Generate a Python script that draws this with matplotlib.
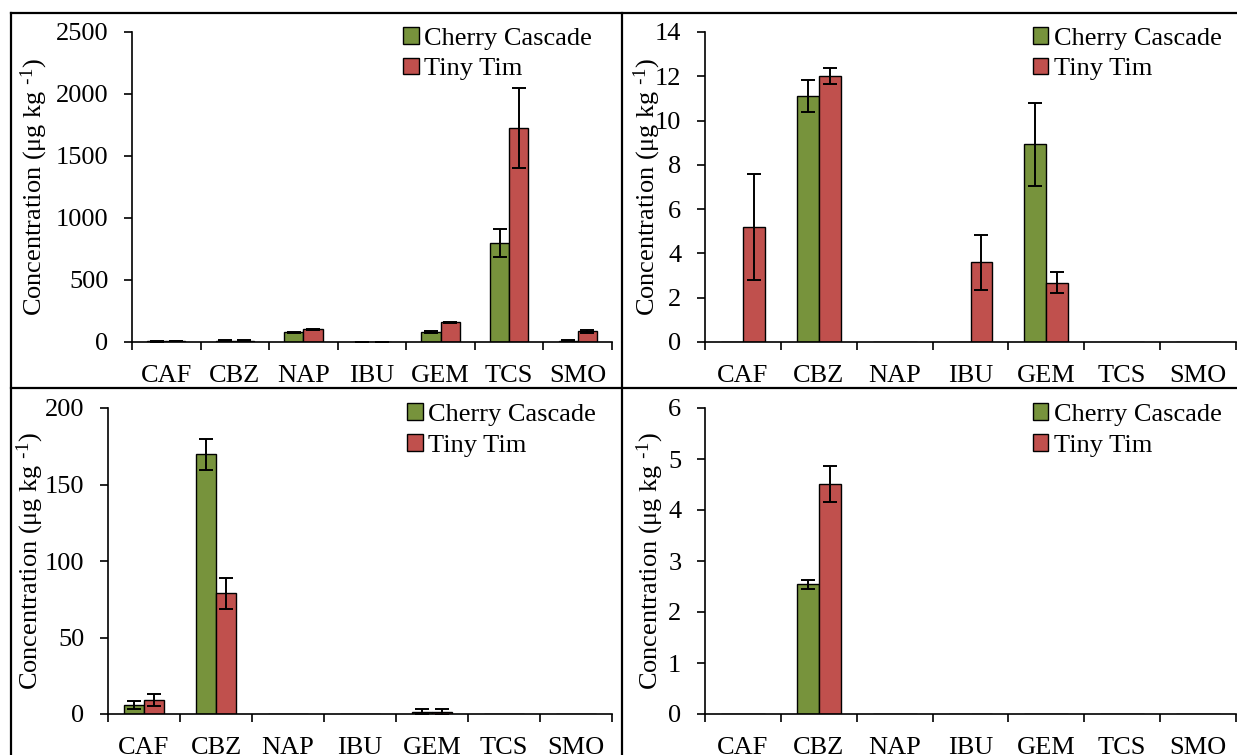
import matplotlib.pyplot as plt
from matplotlib.lines import Line2D
import numpy as np

plt.rcParams['font.family'] = ['Liberation Serif', 'DejaVu Serif']
plt.rcParams['mathtext.default'] = 'regular'

categories = ['CAF', 'CBZ', 'NAP', 'IBU', 'GEM', 'TCS', 'SMO']
series_names = ['Cherry Cascade', 'Tiny Tim']

# top-left panel
cc_a = [5, 12, 78, 2, 80, 798, 10]
cc_a_err = [2, 3, 5, 1, 5, 110, 3]
tt_a = [8, 10, 102, 2, 161, 1728, 86]
tt_a_err = [3, 3, 5, 1, 4, 322, 12]

# top-right panel
cc_b = [0, 11.1, 0, 0, 8.93, 0, 0]
cc_b_err = [0, 0.72, 0, 0, 1.87, 0, 0]
tt_b = [5.19, 12.0, 0, 3.6, 2.68, 0, 0]
tt_b_err = [2.38, 0.36, 0, 1.25, 0.48, 0, 0]

# bottom-left panel
cc_c = [5.9, 169.7, 0.3, 0.2, 1.5, 0.2, 0.2]
cc_c_err = [2.8, 10.3, 0, 0, 1.8, 0, 0]
tt_c = [9.4, 78.8, 0.2, 0.2, 1.2, 0.2, 0.2]
tt_c_err = [3.9, 10.2, 0, 0, 1.8, 0, 0]

# bottom-right panel
cc_d = [0, 2.54, 0, 0, 0, 0, 0]
cc_d_err = [0, 0.08, 0, 0, 0, 0, 0]
tt_d = [0, 4.51, 0, 0, 0, 0, 0]
tt_d_err = [0, 0.35, 0, 0, 0, 0, 0]

green = '#77933C'
red = '#C0504D'
W, H = 1237, 755

fig = plt.figure(figsize=(12.37, 7.55), dpi=100)


def px_axes(x0, x1, ytop, ybot):
    return fig.add_axes([x0 / W, (H - ybot) / H, (x1 - x0) / W, (ybot - ytop) / H])


def panel(ax, cc, cc_err, tt, tt_err, ymax, ystep, bw, lab_x, leg_x):
    x = np.arange(len(categories)) + 0.5
    for vals, errs, col, off, name in [(cc, cc_err, green, -bw / 2, series_names[0]),
                                       (tt, tt_err, red, bw / 2, series_names[1])]:
        vals = np.array(vals, float)
        errs = np.array(errs, float)
        ax.bar(x + off, vals, bw, color=col, edgecolor='black', linewidth=1.0,
               label=name, zorder=2)
        m = errs > 0
        ax.errorbar(x[m] + off, vals[m], yerr=errs[m], fmt='none', ecolor='black',
                    elinewidth=1.4, capsize=5, capthick=1.4, zorder=3)
    ax.set_xlim(0, len(categories))
    ax.set_ylim(0, ymax)
    ax.set_yticks(np.arange(0, ymax + ystep / 2, ystep))
    ax.set_xticks(np.arange(len(categories) + 1))
    ax.set_xticklabels([])
    ax.set_xticks(x, minor=True)
    ax.set_xticklabels(categories, minor=True)
    ax.tick_params(axis='x', which='major', direction='out', length=6, width=1.2)
    ax.tick_params(axis='x', which='minor', length=0, pad=16.5, labelsize=19)
    ax.tick_params(axis='y', direction='out', length=6, width=1.2, pad=11, labelsize=19)
    for s in ['top', 'right']:
        ax.spines[s].set_visible(False)
    for s in ['left', 'bottom']:
        ax.spines[s].set_linewidth(1.2)
    ax.set_ylabel(r'Concentration (μg kg $^{\text{-}1}$)', fontsize=19)
    ax.yaxis.set_label_coords(lab_x, 0.5)
    ax.legend(loc='upper left', bbox_to_anchor=(leg_x, 1.05), frameon=False,
              fontsize=19, handlelength=0.6, handleheight=0.6, handletextpad=0.2,
              labelspacing=0.3, borderaxespad=0)


ax1 = px_axes(132, 612, 32, 342)
panel(ax1, cc_a, cc_a_err, tt_a, tt_a_err, 2500, 500, 0.28, -0.171, 0.543)

ax2 = px_axes(705, 1236, 32, 342)
panel(ax2, cc_b, cc_b_err, tt_b, tt_b_err, 14, 2, 0.29, -0.0785, 0.597)

ax3 = px_axes(108, 612, 408, 714)
panel(ax3, cc_c, cc_c_err, tt_c, tt_c_err, 200, 50, 0.28, -0.123, 0.572)

ax4 = px_axes(705, 1236, 408, 714)
panel(ax4, cc_d, cc_d_err, tt_d, tt_d_err, 6, 1, 0.29, -0.074, 0.597)

# panel frame lines
lw = 1.6
for xs, ys in [([11, 11], [13, H]), ([11, W], [13, 13]),
               ([622, 622], [13, H]), ([11, W], [388, 388])]:
    fig.add_artist(Line2D([v / W for v in xs], [(H - v) / H for v in ys],
                          color='black', linewidth=lw, transform=fig.transFigure))

fig.savefig('out.png', dpi=100)
